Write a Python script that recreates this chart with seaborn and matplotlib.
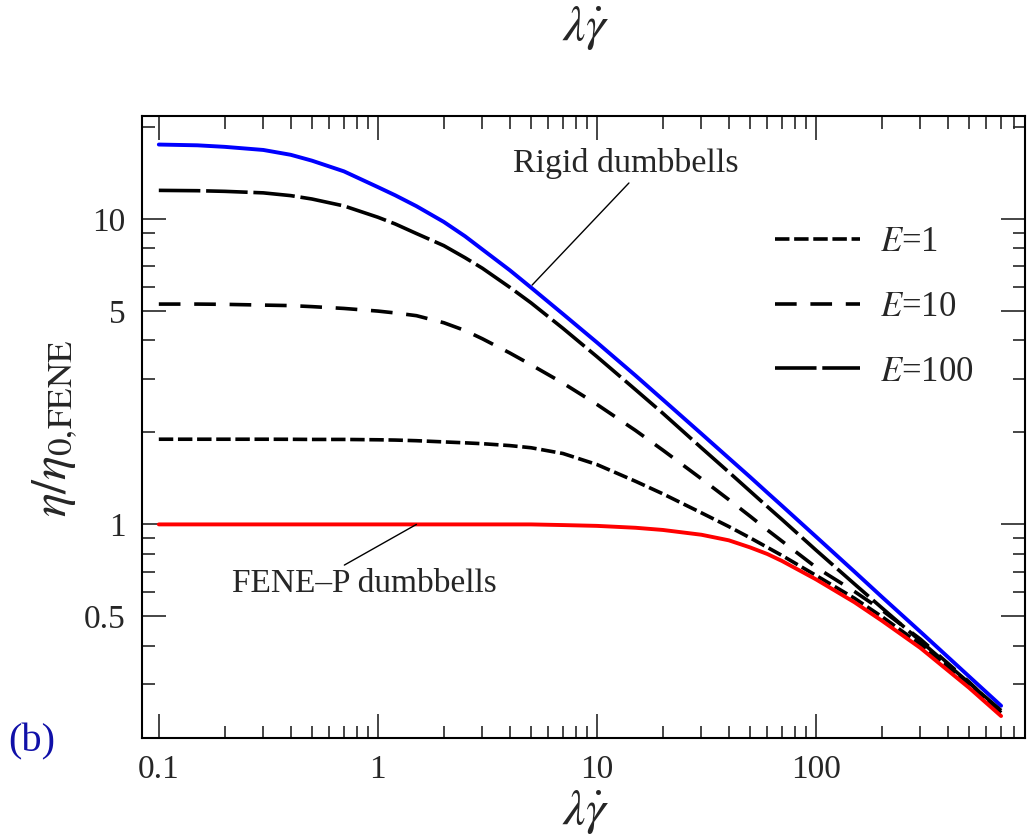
import numpy as np
import pandas as pd
import matplotlib
matplotlib.use("Agg")
import matplotlib.pyplot as plt
import seaborn as sns

# ---- data (log-log) ----
shear_rate = [0.1, 0.15, 0.2, 0.3, 0.4, 0.5, 0.7, 1, 1.2, 1.5, 2, 2.5, 3, 4, 5, 7,
              10, 15, 20, 30, 40, 50, 60, 70, 100, 150, 200, 300, 500, 700]
rigid = [17.5, 17.4, 17.2, 16.8, 16.2, 15.5, 14.3, 12.7, 11.94, 11.0, 9.77, 8.77,
         7.94, 6.79, 5.96, 4.88, 3.94, 3.07, 2.56, 1.98, 1.648, 1.43, 1.27, 1.15,
         0.912, 0.700, 0.579, 0.445, 0.318, 0.255]
e100 = [12.39, 12.36, 12.30, 12.16, 11.91, 11.61, 11.02, 10.12, 9.62, 8.95, 8.17,
        7.46, 6.89, 5.97, 5.31, 4.38, 3.54, 2.76, 2.31, 1.78, 1.483, 1.285, 1.143,
        1.037, 0.824, 0.638, 0.533, 0.415, 0.303, 0.246]
e10 = [5.26, 5.26, 5.25, 5.22, 5.20, 5.16, 5.09, 4.99, 4.92, 4.82, 4.57, 4.31,
       4.05, 3.64, 3.33, 2.90, 2.47, 2.03, 1.75, 1.41, 1.205, 1.064, 0.959, 0.881,
       0.724, 0.603, 0.524, 0.421, 0.305, 0.242]
e1 = [1.90, 1.90, 1.90, 1.90, 1.899, 1.897, 1.897, 1.892, 1.888, 1.879, 1.862,
      1.849, 1.837, 1.811, 1.782, 1.706, 1.570, 1.384, 1.259, 1.091, 0.984, 0.904,
      0.841, 0.791, 0.681, 0.573, 0.499, 0.405, 0.299, 0.240]
fene_p = [1.0, 1.0, 1.0, 1.0, 1.0, 1.0, 1.0, 1.0, 1.0, 1.0, 1.0, 1.0, 1.0, 1.0,
          1.0, 0.995, 0.989, 0.975, 0.959, 0.925, 0.887, 0.841, 0.800, 0.759,
          0.661, 0.556, 0.484, 0.394, 0.292, 0.236]

legend_labels = [r"$E$=1", r"$E$=10", r"$E$=100"]
x_ticks = [0.1, 1, 10, 100]
x_tick_labels = ["0.1", "1", "10", "100"]
y_ticks = [0.5, 1, 5, 10]
y_tick_labels = ["0.5", "1", "5", "10"]

# ---- style ----
sns.set_style("ticks")
plt.rcParams["font.family"] = ["Liberation Serif", "DejaVu Serif"]
plt.rcParams["mathtext.fontset"] = "stix"

fig = plt.figure(figsize=(10.27, 8.39), dpi=100)
ax = fig.add_axes([142 / 1027, 1 - 738 / 839, (1025 - 142) / 1027, (738 - 116) / 839])

df = pd.DataFrame({"x": shear_rate, "rigid": rigid, "e100": e100,
                   "e10": e10, "e1": e1, "fene": fene_p})

lw_black = 2.6
sns.lineplot(data=df, x="x", y="rigid", ax=ax, color="#0000ff", lw=2.8)
l1 = sns.lineplot(data=df, x="x", y="e1", ax=ax, color="black", lw=lw_black,
                  linestyle=(0, (4.0, 1.3))).lines[-1]
l2 = sns.lineplot(data=df, x="x", y="e10", ax=ax, color="black", lw=lw_black,
                  linestyle=(0, (6.0, 3.8))).lines[-1]
l3 = sns.lineplot(data=df, x="x", y="e100", ax=ax, color="black", lw=lw_black,
                  linestyle=(0, (11.5, 1.6))).lines[-1]
sns.lineplot(data=df, x="x", y="fene", ax=ax, color="#ff0000", lw=2.8)

ax.set_xscale("log")
ax.set_yscale("log")
ax.set_xlim(0.0838, 805)
ax.set_ylim(0.2, 21.7)

ax.set_xticks(x_ticks)
ax.set_xticklabels(x_tick_labels)
ax.set_xticks([m * d for d in [0.1, 1, 10, 100] for m in range(2, 10)], minor=True)
ax.set_yticks(y_ticks)
ax.set_yticklabels(y_tick_labels)
ax.set_yticks([0.3, 0.4, 0.6, 0.7, 0.8, 0.9, 2, 3, 4, 6, 7, 8, 9, 20], minor=True)
ax.xaxis.set_minor_formatter(matplotlib.ticker.NullFormatter())
ax.yaxis.set_minor_formatter(matplotlib.ticker.NullFormatter())

ax.tick_params(which="both", direction="in", top=True, right=True,
               labelsize=24, width=1.2, pad=12)
ax.tick_params(which="major", length=17)
ax.tick_params(which="minor", length=9)
for s in ax.spines.values():
    s.set_linewidth(1.5)
    s.set_color("black")

ax.set_xlabel("")
ax.set_ylabel("")
fig.text(586 / 1027, 1 - 812 / 839, r"$\lambda\dot{\gamma}$", fontsize=36,
         ha="center", va="center")
fig.text(586 / 1027, 1 - 28 / 839, r"$\lambda\dot{\gamma}$", fontsize=36,
         ha="center", va="center")
fig.text(55 / 1027, 1 - 428 / 839, r"$\eta/\eta_{0,\!\mathrm{FENE}}$", fontsize=36,
         ha="center", va="center", rotation=90)
fig.text(32 / 1027, 1 - 742 / 839, "(b)", fontsize=29, color="#1010a8",
         ha="center", va="center")

# annotations
ax.annotate("", xy=(5.06, 6.07), xytext=(14.0, 13.1),
            arrowprops=dict(arrowstyle="-", lw=1.0, color="black",
                            shrinkA=0, shrinkB=0))
ax.text(13.5, 15.2, "Rigid dumbbells", fontsize=24.5, ha="center", va="center")
ax.annotate("", xy=(1.50, 1.0), xytext=(0.703, 0.736),
            arrowprops=dict(arrowstyle="-", lw=1.0, color="black",
                            shrinkA=0, shrinkB=0))
ax.text(0.216, 0.638, "FENE\u2013P dumbbells", fontsize=24, ha="left", va="center")

leg = ax.legend([l1, l2, l3], legend_labels, loc="upper left",
                bbox_to_anchor=(0.717, 0.8226), frameon=False, fontsize=25,
                handlelength=2.45, handletextpad=0.58, labelspacing=0.91,
                borderpad=0, borderaxespad=0)

fig.savefig("out.png", dpi=100)
